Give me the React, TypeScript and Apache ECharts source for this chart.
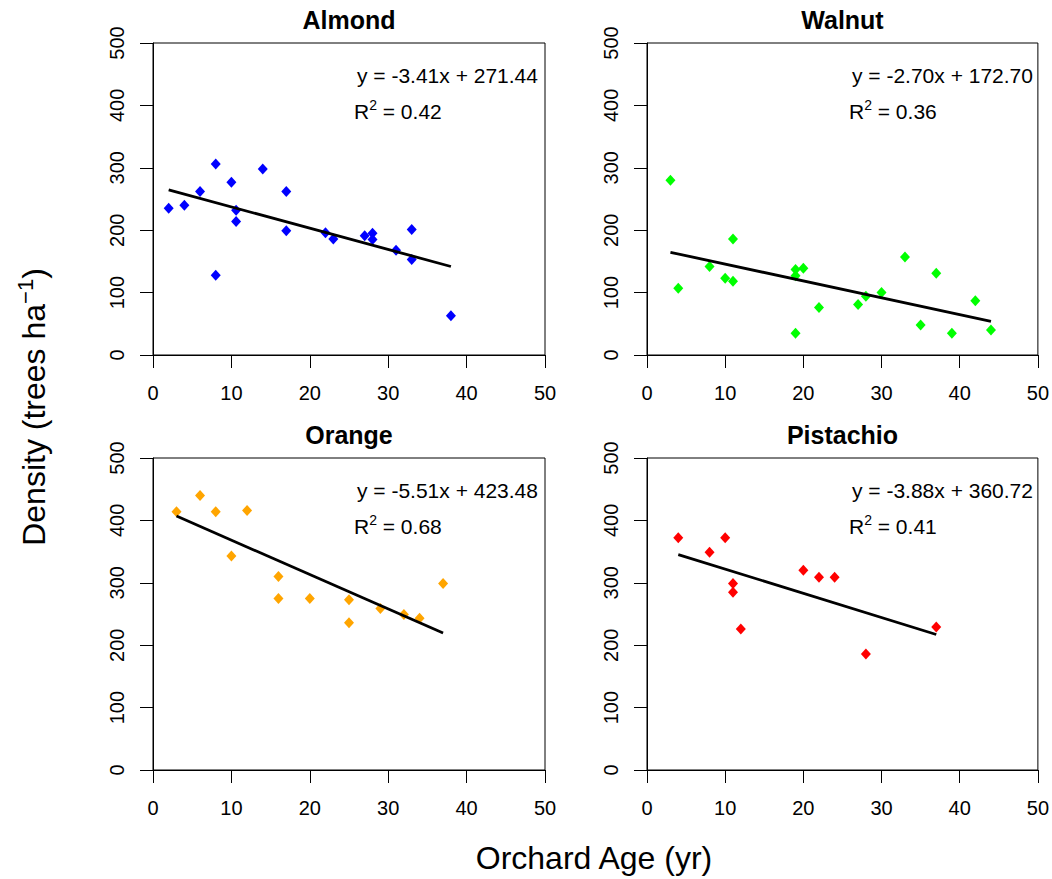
import React, { useEffect, useRef } from "react";
import * as echarts from "echarts";

// Orchard age (yr) and tree density (trees/ha) for each crop
const almondAge = [2, 4, 6, 8, 8, 10, 10.6, 10.6, 14, 17, 17, 22, 23, 27, 28, 28, 31, 33, 33, 38];
const almondDensity = [235, 240, 262, 306, 128, 277, 232, 214, 298, 262, 199, 196, 186, 191, 195, 185, 168, 201, 153, 63];

const walnutAge = [3, 4, 8, 10, 11, 11, 19, 19, 19, 20, 22, 27, 28, 30, 33, 35, 37, 39, 42, 44];
const walnutDensity = [280, 107, 142, 123, 186, 118, 137, 127, 35, 139, 76, 81, 94, 100, 157, 48, 131, 35, 87, 40];

const orangeAge = [3, 6, 8, 10, 12, 16, 16, 20, 25, 25, 29, 32, 34, 37];
const orangeDensity = [414, 440, 414, 343, 416, 310, 275, 275, 273, 236, 259, 249, 243, 299];

const pistachioAge = [4, 8, 10, 11, 11, 12, 20, 22, 24, 28, 37];
const pistachioDensity = [372, 349, 372, 299, 285, 226, 320, 309, 309, 186, 229];

// Linear fits: density = slope * age + intercept
const panelNames = ["Almond", "Walnut", "Orange", "Pistachio"];
const fitSlope = [-3.41, -2.7, -5.51, -3.88];
const fitIntercept = [271.44, 172.7, 423.48, 360.72];
const rSquared = [0.42, 0.36, 0.68, 0.41];

const xTicks = [0, 10, 20, 30, 40, 50];
const yTicks = [0, 100, 200, 300, 400, 500];

const ages = [almondAge, walnutAge, orangeAge, pistachioAge];
const densities = [almondDensity, walnutDensity, orangeDensity, pistachioDensity];
const pointColors = ["#0000FF", "#00FF00", "#FFA500", "#FF0000"];

const FONT = '"Liberation Sans", Arial, Helvetica, sans-serif';

// Plot areas in page pixels
const layout = [
  { left: 153, top: 43, width: 392, height: 312 },
  { left: 647, top: 43, width: 391, height: 312 },
  { left: 153, top: 458, width: 392, height: 312 },
  { left: 647, top: 458, width: 391, height: 312 },
];

function buildOption() {
  const grid = layout.map((g) => ({
    ...g,
    show: true,
    borderColor: "#000",
    borderWidth: 1,
    backgroundColor: "transparent",
    containLabel: false,
  }));

  const xAxis = layout.map((_, i) => ({
    type: "value",
    gridIndex: i,
    min: xTicks[0],
    max: xTicks[xTicks.length - 1],
    interval: xTicks[1] - xTicks[0],
    axisLine: { show: true, onZero: false, lineStyle: { color: "#000", width: 1 } },
    axisTick: { show: true, inside: false, length: 13, lineStyle: { color: "#000", width: 1 } },
    splitLine: { show: false },
    axisLabel: { fontSize: 20, fontFamily: FONT, color: "#000", margin: 28 },
  }));

  const yAxis = layout.map((_, i) => ({
    type: "value",
    gridIndex: i,
    min: yTicks[0],
    max: yTicks[yTicks.length - 1],
    interval: yTicks[1] - yTicks[0],
    axisLine: { show: true, onZero: false, lineStyle: { color: "#000", width: 1 } },
    axisTick: { show: true, inside: false, length: 13, lineStyle: { color: "#000", width: 1 } },
    splitLine: { show: false },
    axisLabel: { fontSize: 20, fontFamily: FONT, color: "#000", margin: 26, rotate: 90 },
  }));

  const series: any[] = [];
  for (let i = 0; i < 4; i++) {
    const xs = ages[i];
    const ys = densities[i];
    series.push({
      type: "scatter",
      xAxisIndex: i,
      yAxisIndex: i,
      symbol: "diamond",
      symbolSize: [10, 11],
      itemStyle: { color: pointColors[i], opacity: 1 },
      data: xs.map((x, k) => [x, ys[k]]),
      z: 2,
    });
    const x0 = Math.min(...xs);
    const x1 = Math.max(...xs);
    series.push({
      type: "line",
      xAxisIndex: i,
      yAxisIndex: i,
      symbol: "none",
      lineStyle: { color: "#000", width: 2.8 },
      data: [
        [x0, fitSlope[i] * x0 + fitIntercept[i]],
        [x1, fitSlope[i] * x1 + fitIntercept[i]],
      ],
      z: 3,
    });
  }

  const graphic: any[] = [];
  layout.forEach((g, i) => {
    // panel title
    graphic.push({
      type: "text",
      x: g.left + g.width / 2,
      y: g.top - 23,
      style: {
        text: panelNames[i],
        fontSize: 25,
        fontWeight: "bold",
        fontFamily: FONT,
        fill: "#000",
        align: "center",
        verticalAlign: "middle",
      },
    });
    // fitted equation
    const eqLeft = g.left + (i % 2 === 0 ? 204 : 205);
    graphic.push({
      type: "text",
      x: eqLeft,
      y: g.top + 32,
      style: {
        text: `y = ${fitSlope[i].toFixed(2)}x + ${fitIntercept[i].toFixed(2)}`,
        fontSize: 21,
        fontFamily: FONT,
        fill: "#000",
        align: "left",
        verticalAlign: "middle",
      },
    });
    // coefficient of determination
    graphic.push({
      type: "text",
      x: eqLeft - 3,
      y: g.top + 68,
      style: {
        text: `{a|R}{s|2}{a| = ${rSquared[i].toFixed(2)}}`,
        fill: "#000",
        align: "left",
        verticalAlign: "middle",
        rich: {
          a: { fontSize: 21, fontFamily: FONT, fill: "#000", lineHeight: 26 },
          s: { fontSize: 14, fontFamily: FONT, fill: "#000", verticalAlign: "top" },
        },
      },
    });
  });

  // shared axis titles
  graphic.push({
    type: "text",
    x: 594,
    y: 858,
    style: {
      text: "Orchard Age (yr)",
      fontSize: 32,
      fontFamily: FONT,
      fill: "#000",
      align: "center",
      verticalAlign: "middle",
    },
  });
  graphic.push({
    type: "text",
    x: 34,
    y: 407,
    rotation: Math.PI / 2,
    style: {
      text: "{a|Density (trees ha}{s|\u22121}{a|)}",
      fill: "#000",
      align: "center",
      verticalAlign: "middle",
      rich: {
        a: { fontSize: 32, fontFamily: FONT, fill: "#000", lineHeight: 40 },
        s: { fontSize: 22, fontFamily: FONT, fill: "#000", verticalAlign: "top" },
      },
    },
  });

  return {
    animation: false,
    backgroundColor: "#fff",
    grid,
    xAxis,
    yAxis,
    series,
    graphic,
  };
}

export default function App() {
  const ref = useRef<HTMLDivElement>(null);
  useEffect(() => {
    if (!ref.current) return;
    const chart = echarts.init(ref.current, undefined, { renderer: "svg" });
    chart.setOption(buildOption() as any);
    return () => chart.dispose();
  }, []);
  return (
    <div
      ref={ref}
      style={{ position: "fixed", left: 0, top: 0, width: 1052, height: 879, background: "#fff" }}
    />
  );
}
